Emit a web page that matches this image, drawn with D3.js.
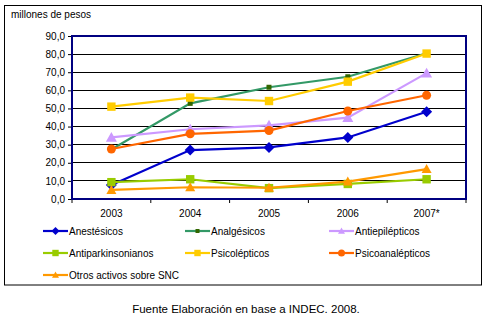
<!DOCTYPE html>
<html><head><meta charset="utf-8">
<script src="https://cdn.jsdelivr.net/npm/d3@7/dist/d3.min.js"></script>
<style>
body{margin:0;background:#fff;}
svg{display:block;font-family:"Liberation Sans",Arial,sans-serif;}
</style></head>
<body><svg id="c" width="492" height="322"></svg>
<script>
const categories = ["2003","2004","2005","2006","2007*"];
const anestesicos = [7.7, 27.0, 28.5, 34.0, 48.2];
const analgesicos = [27.3, 52.8, 61.7, 67.5, 80.5];
const antiepilepticos = [34.0, 38.5, 40.7, 44.9, 69.5];
const antiparkinsonianos = [9.3, 10.9, 6.0, 8.3, 10.9];
const psicolepticos = [51.0, 56.0, 54.1, 64.8, 80.3];
const psicoanalepticos = [27.6, 36.0, 37.8, 48.6, 57.3];
const otros = [5.0, 6.5, 6.2, 9.6, 16.5];
const yTicks = [0,10,20,30,40,50,60,70,80,90];

const series = [
  {name:"Anestésicos", values:anestesicos, color:"#0000cc", marker:"diamond", size:5.5},
  {name:"Analgésicos", values:analgesicos, color:"#339966", mcolor:"#336600", marker:"square", size:2.5},
  {name:"Antiepilépticos", values:antiepilepticos, color:"#cc99ff", marker:"triangle", size:5.5},
  {name:"Antiparkinsonianos", values:antiparkinsonianos, color:"#99cc00", marker:"square", size:4.2},
  {name:"Psicolépticos", values:psicolepticos, color:"#ffcc00", marker:"square", size:4.2},
  {name:"Psicoanalépticos", values:psicoanalepticos, color:"#ff6600", marker:"circle", size:4.5},
  {name:"Otros activos sobre SNC", values:otros, color:"#ff9900", marker:"triangle", size:5}
];

const svg = d3.select("#c");
svg.append("rect").attr("x",4.5).attr("y",5.5).attr("width",477).attr("height",279.5)
  .attr("fill","#fff").attr("stroke","#000").attr("stroke-width",1);

const L=72, R=466, T=36, B=199;
const x = d3.scaleBand().domain(categories).range([L,R]);
const y = d3.scaleLinear().domain([0,90]).range([B,T]);

// gridlines
svg.append("g").selectAll("line").data(yTicks.filter(d=>d>0)).join("line")
  .attr("x1",L).attr("x2",R).attr("y1",d=>y(d)).attr("y2",d=>y(d))
  .attr("stroke","#000").attr("stroke-width",1).attr("shape-rendering","crispEdges");

// y axis
const yAxis = d3.axisLeft(y).tickValues(yTicks).tickSize(4).tickPadding(3)
  .tickFormat(d=>d3.format(".1f")(d).replace(".",","));
const gy = svg.append("g").attr("transform",`translate(${L},0)`).call(yAxis);
gy.select(".domain").remove();
gy.selectAll(".tick line").attr("stroke","#000");
gy.selectAll("text").attr("font-size",10).attr("fill","#000");

// x axis
const xAxis = d3.axisBottom(x).tickSize(0).tickPadding(11);
const gx = svg.append("g").attr("transform",`translate(0,${B})`).call(xAxis);
gx.select(".domain").remove();
gx.selectAll("text").attr("font-size",10).attr("fill","#000");
const bounds = categories.map(c=>x(c)).concat([R]);
svg.append("g").selectAll("line").data(bounds).join("line")
  .attr("x1",d=>d).attr("x2",d=>d).attr("y1",B).attr("y2",B+4)
  .attr("stroke","#000");

// plot border
svg.append("rect").attr("x",L).attr("y",T).attr("width",R-L).attr("height",B-T)
  .attr("fill","none").attr("stroke","#000080").attr("stroke-width",2);

function markerPath(type,s){
  if(type==="diamond") return `M0,${-s}L${s},0L0,${s}L${-s},0Z`;
  if(type==="square") return `M${-s},${-s}H${s}V${s}H${-s}Z`;
  if(type==="triangle") return `M0,${-s}L${s},${s*0.8}L${-s},${s*0.8}Z`;
  if(type==="circle") return d3.symbol(d3.symbolCircle, Math.PI*s*s)();
}

const line = d3.line().x((d,i)=>x(categories[i])+x.bandwidth()/2).y(d=>y(d));
series.forEach(s=>{
  const g = svg.append("g");
  g.append("path").attr("d",line(s.values)).attr("fill","none")
    .attr("stroke",s.color).attr("stroke-width",2.2);
  g.selectAll("path.m").data(s.values).join("path").attr("class","m")
    .attr("transform",(d,i)=>`translate(${x(categories[i])+x.bandwidth()/2},${y(d)})`)
    .attr("d",markerPath(s.marker,s.size))
    .attr("fill",s.mcolor||s.color);
});

// y title
svg.append("text").attr("x",11).attr("y",18).attr("font-size",10).attr("fill","#000").text("millones de pesos");

// legend
const cols=[43,185,329], rows=[231,253,275];
series.forEach((s,i)=>{
  const cx=cols[i%3], cy=rows[Math.floor(i/3)];
  const g=svg.append("g");
  g.append("line").attr("x1",cx).attr("x2",cx+25).attr("y1",cy).attr("y2",cy)
    .attr("stroke",s.color).attr("stroke-width",2.2);
  g.append("path").attr("transform",`translate(${cx+12.5},${cy})`)
    .attr("d",markerPath(s.marker,s.marker==="diamond"?4:(s.marker==="square"?(s.size>3?3.2:2):3.5)))
    .attr("fill",s.mcolor||s.color);
  g.append("text").attr("x",cx+26).attr("y",cy+3.5).attr("font-size",10).attr("fill","#000").text(s.name);
});

// source
svg.append("text").attr("x",246).attr("y",313).attr("text-anchor","middle")
  .attr("font-size",11.5).attr("fill","#000").text("Fuente Elaboración en base a INDEC. 2008.");
</script></body></html>
